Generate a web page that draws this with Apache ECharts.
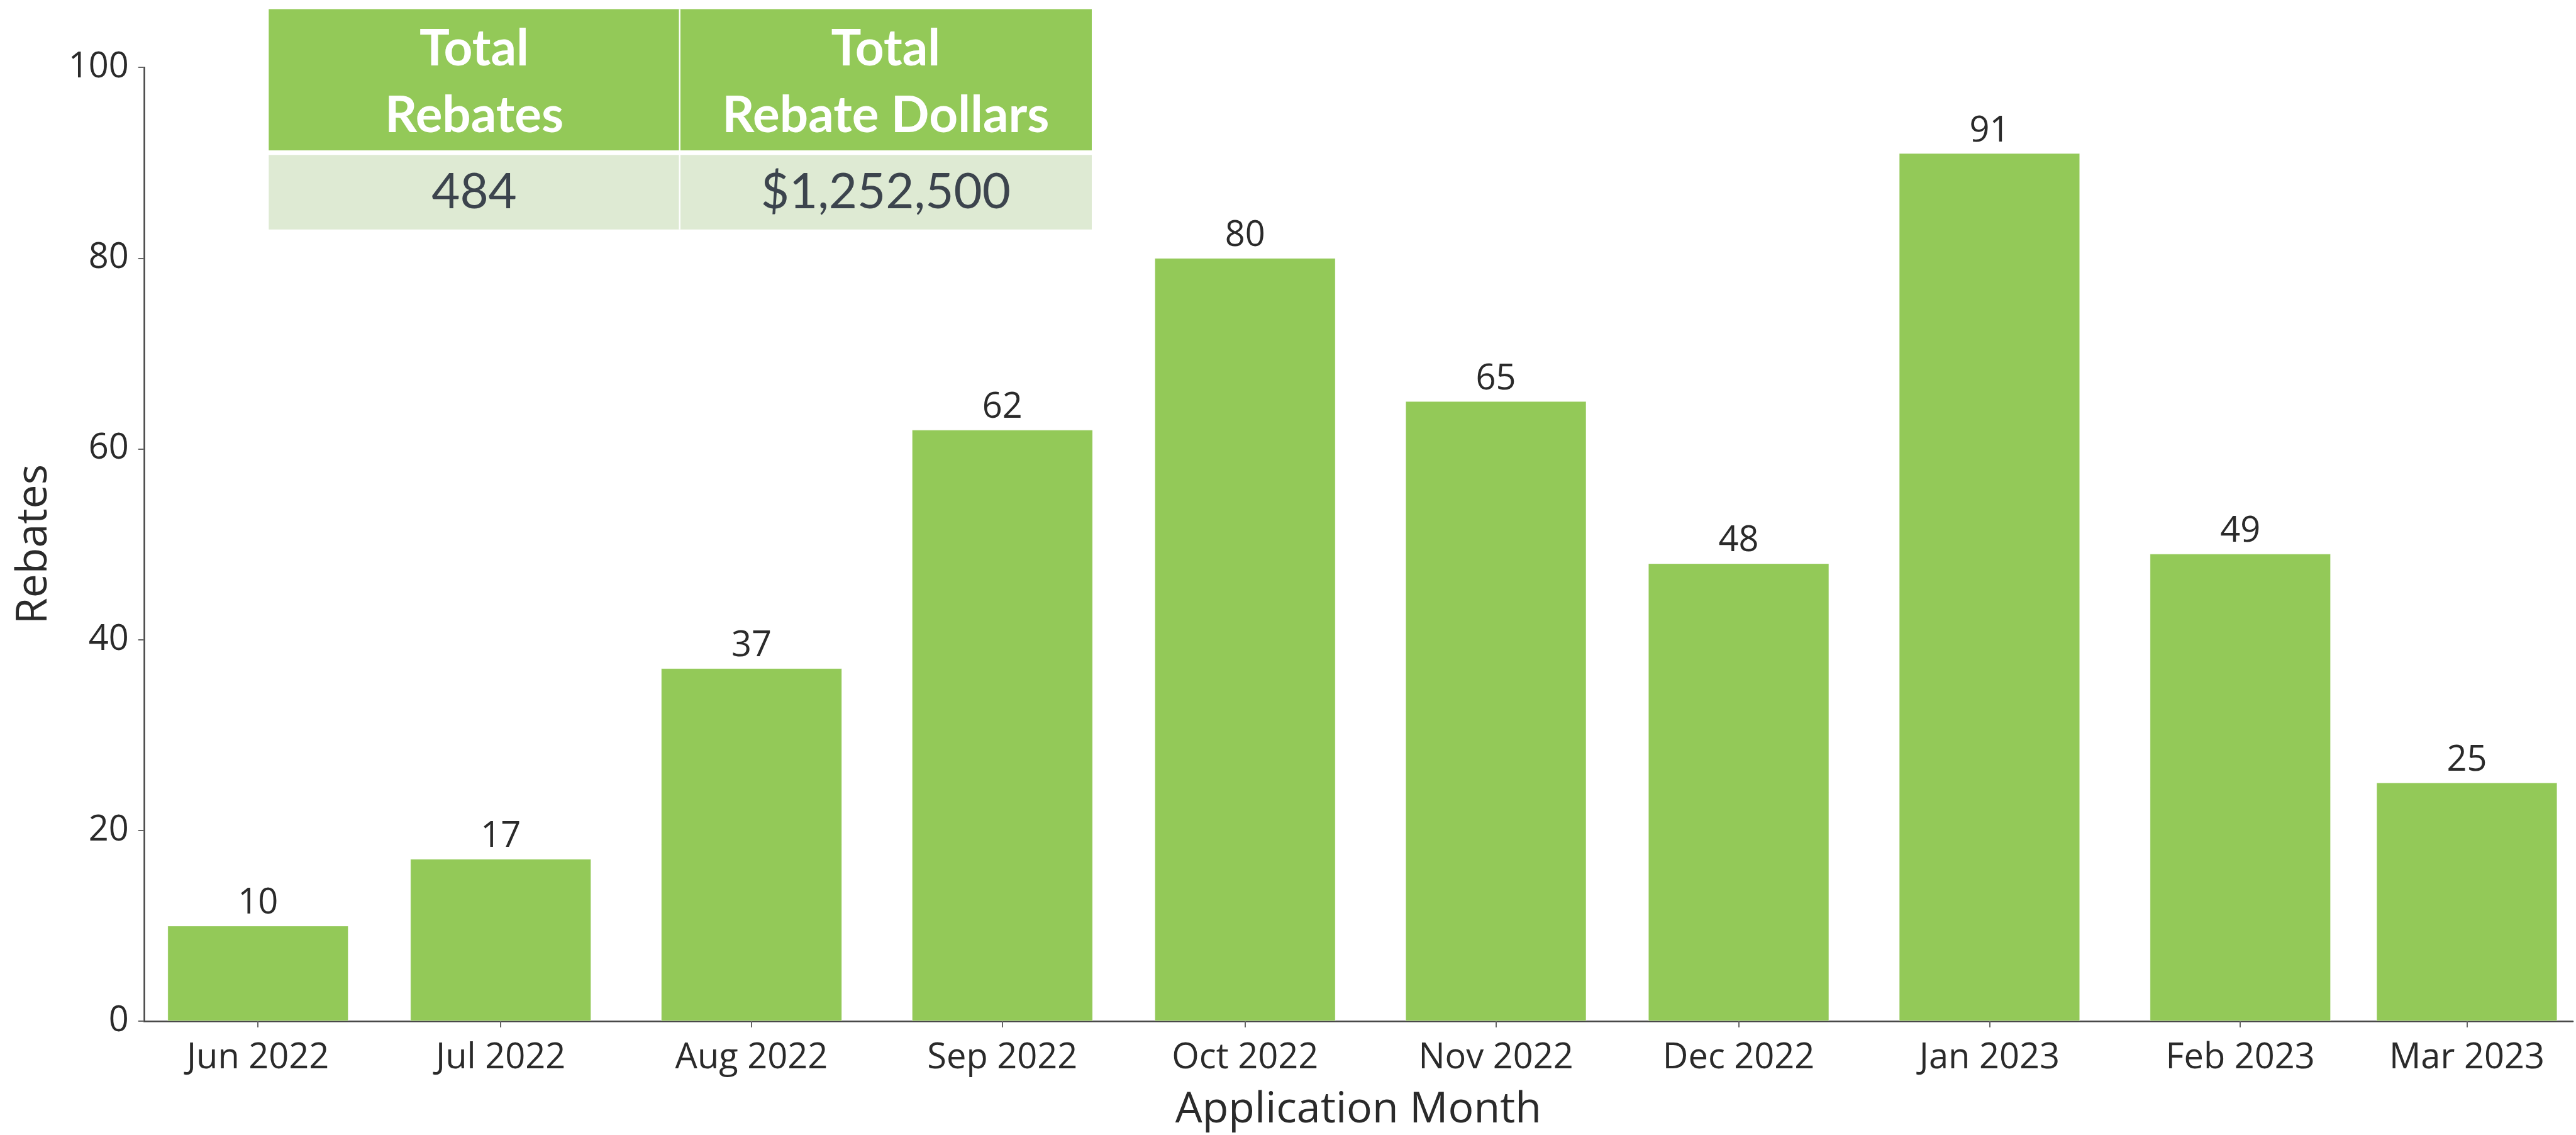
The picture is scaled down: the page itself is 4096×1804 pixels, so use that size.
<!DOCTYPE html>
<html>
<head>
<meta charset="utf-8">
<script src="https://cdn.jsdelivr.net/npm/echarts@6/dist/echarts.min.js"></script>
<style>
  html, body { margin: 0; padding: 0; background: #ffffff; }
  #chart { width: 4096px; height: 1804px; }
</style>
</head>
<body>
<div id="chart"></div>
<script>
// Monthly rebate applications
const months = ['Jun 2022', 'Jul 2022', 'Aug 2022', 'Sep 2022', 'Oct 2022',
                'Nov 2022', 'Dec 2022', 'Jan 2023', 'Feb 2023', 'Mar 2023'];
const monthStarts = ['2022-06-01', '2022-07-01', '2022-08-01', '2022-09-01', '2022-10-01',
                     '2022-11-01', '2022-12-01', '2023-01-01', '2023-02-01', '2023-03-01'];
const rebates = [10, 17, 37, 62, 80, 65, 48, 91, 49, 25];
const yTicks = [0, 20, 40, 60, 80, 100];

// Summary table
const summaryHeaders = [['Total', 'Rebates'], ['Total', 'Rebate Dollars']];
const summaryValues = ['484', '$1,252,500'];

const GREEN = '#93c958';
const PALE = '#deead3';
const INK = '#2a2a2a';

// day number counted from 1 Jun 2022, so bars sit at calendar spacing
function toDay(s) {
  const p = s.split('-').map(Number);
  return Math.round((Date.UTC(p[0], p[1] - 1, p[2]) - Date.UTC(2022, 5, 1)) / 86400000);
}
const monthDays = monthStarts.map(toDay);
const seriesData = monthDays.map((d, i) => [d, rebates[i]]);

const chart = echarts.init(document.getElementById('chart'), null, { renderer: 'canvas' });

// summary table drawn as graphic elements
const tableLeft = 427.3, tableRight = 1736, colSplit = 1080.7;
const headTop = 14.4, headBottom = 239, valTop = 246.3, valBottom = 364.8;
const colCenters = [(tableLeft + colSplit) / 2, (colSplit + tableRight) / 2];
const graphics = [
  { type: 'rect', shape: { x: tableLeft, y: headTop, width: tableRight - tableLeft, height: headBottom - headTop }, style: { fill: GREEN }, silent: true },
  { type: 'rect', shape: { x: tableLeft, y: valTop, width: tableRight - tableLeft, height: valBottom - valTop }, style: { fill: PALE }, silent: true },
  { type: 'rect', shape: { x: colSplit - 1.2, y: headTop, width: 2.4, height: valBottom - headTop }, style: { fill: '#ffffff' }, silent: true }
];
summaryHeaders.forEach((lines, c) => {
  graphics.push({ type: 'text', silent: true, style: { text: lines[0], x: colCenters[c], y: 78, fill: '#ffffff', font: 'bold 80px Lato', align: 'center', verticalAlign: 'middle' } });
  graphics.push({ type: 'text', silent: true, style: { text: lines[1], x: colCenters[c], y: 184, fill: '#ffffff', font: 'bold 80px Lato', align: 'center', verticalAlign: 'middle' } });
  graphics.push({ type: 'text', silent: true, style: { text: summaryValues[c], x: colCenters[c], y: 306, fill: '#3c444d', font: '78px Lato', align: 'center', verticalAlign: 'middle' } });
});

const option = {
  backgroundColor: '#ffffff',
  animation: false,
  textStyle: { fontFamily: 'Open Sans' },
  grid: { left: 228.8, right: 5, top: 107.2, bottom: 180.4, containLabel: false },
  xAxis: {
    type: 'value',
    min: monthDays[0] - 14.1,
    max: monthDays[monthDays.length - 1] + 13.1,
    name: 'Application Month',
    nameLocation: 'middle',
    nameGap: 108,
    nameTextStyle: { fontSize: 68, color: INK, fontFamily: 'Open Sans' },
    axisLine: { show: true, onZero: false, lineStyle: { color: '#444444', width: 2.5 } },
    axisTick: { show: true, length: 10, customValues: monthDays, lineStyle: { color: '#666666', width: 2 } },
    axisLabel: {
      customValues: monthDays,
      fontSize: 56,
      color: INK,
      fontFamily: 'Open Sans',
      margin: 31,
      formatter: function (v) {
        const i = monthDays.indexOf(v);
        return i >= 0 ? months[i] : '';
      }
    },
    splitLine: { show: false }
  },
  yAxis: {
    type: 'value',
    min: yTicks[0],
    max: yTicks[yTicks.length - 1],
    interval: yTicks[1] - yTicks[0],
    name: 'Rebates',
    nameLocation: 'middle',
    nameGap: 140,
    nameTextStyle: { fontSize: 68, color: INK, fontFamily: 'Open Sans' },
    axisLine: { show: true, onZero: false, lineStyle: { color: '#444444', width: 2.5 } },
    axisTick: { show: true, length: 9, lineStyle: { color: '#666666', width: 2 } },
    axisLabel: { fontSize: 56, color: INK, fontFamily: 'Open Sans', margin: 24 },
    splitLine: { show: false }
  },
  series: [{
    type: 'bar',
    data: seriesData,
    barWidth: 287.6,
    itemStyle: { color: GREEN, borderColor: 'rgba(255,255,255,0.35)', borderWidth: 1 },
    label: {
      show: true,
      position: 'top',
      distance: 7,
      fontSize: 56,
      color: INK,
      fontFamily: 'Open Sans',
      formatter: p => String(p.value[1])
    },
    emphasis: { disabled: true }
  }],
  graphic: graphics
};

chart.setOption(option);
</script>
</body>
</html>
